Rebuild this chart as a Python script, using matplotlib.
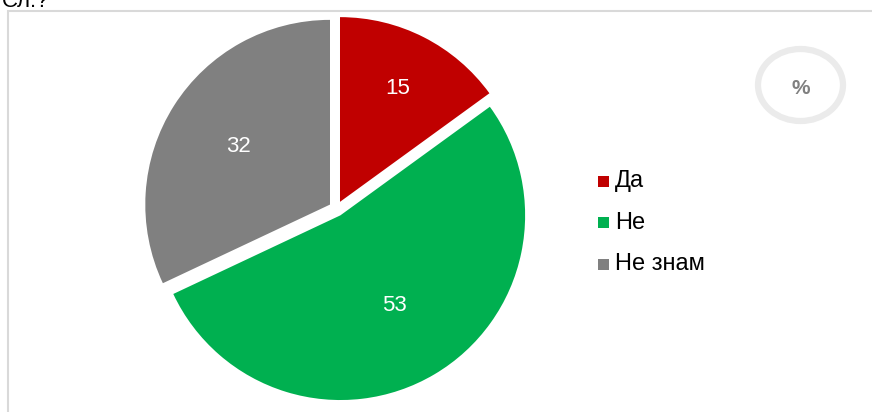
import numpy as np
import matplotlib.pyplot as plt
from matplotlib.patches import Ellipse, Rectangle

categories = ["Да", "Не", "Не знам"]
values = [15, 53, 32]
colors = ["#C00000", "#00B050", "#808080"]

plt.rcParams["font.family"] = ["Liberation Sans", "DejaVu Sans"]

W, H = 872, 412
fig = plt.figure(figsize=(W / 100, H / 100), dpi=100)
ax = fig.add_axes([0, 0, 1, 1])

# pie geometry in pixel units (y measured from the bottom)
cx, cy, r = 336.5, H - 208.7, 184.7
gap = 7.7  # explode offset, data units
wedges, _ = ax.pie(values, colors=colors, startangle=90, counterclock=False,
                   center=(cx, cy), radius=r, explode=[gap] * 3,
                   wedgeprops=dict(linewidth=0))

# value labels, Excel-like placement (small slice sits further out)
label_dist = [0.69, 0.57, 0.585]
start = 90.0
for v, d in zip(values, label_dist):
    span = 360.0 * v / sum(values)
    mid = np.deg2rad(start - span / 2)
    start -= span
    x = cx + (gap + d * r) * np.cos(mid)
    y = cy + (gap + d * r) * np.sin(mid)
    ax.text(x, y, str(v), color="white", fontsize=16, ha="center", va="center")

ax.set_xlim(0, W)
ax.set_ylim(0, H)
ax.set_axis_off()

# legend
for i, (name, c) in enumerate(zip(categories, colors)):
    y = H - (181 + i * 41.5)
    ax.add_patch(Rectangle((598, y - 5.5), 11, 11, color=c, lw=0))
    ax.text(615, y, name, fontsize=17, ha="left", va="center", color="black")

# percent badge
ax.add_patch(Ellipse((800.5, H - 85), 85, 72, fill=False, ec="#EBEBEB", lw=4.5))
ax.text(801, H - 88, "%", fontsize=15, fontweight="bold", color="#808080",
        ha="center", va="center")

# chart frame (runs off the image)
ax.plot([8, 8, W + 5], [-5, H - 10.5, H - 10.5], color="#D9D9D9", lw=1.5,
        solid_joinstyle="miter")

# clipped title text above the frame
ax.text(2, H - 7, "Сл.?", fontsize=16, ha="left", va="baseline", color="black")

fig.savefig("out.png", dpi=100)
